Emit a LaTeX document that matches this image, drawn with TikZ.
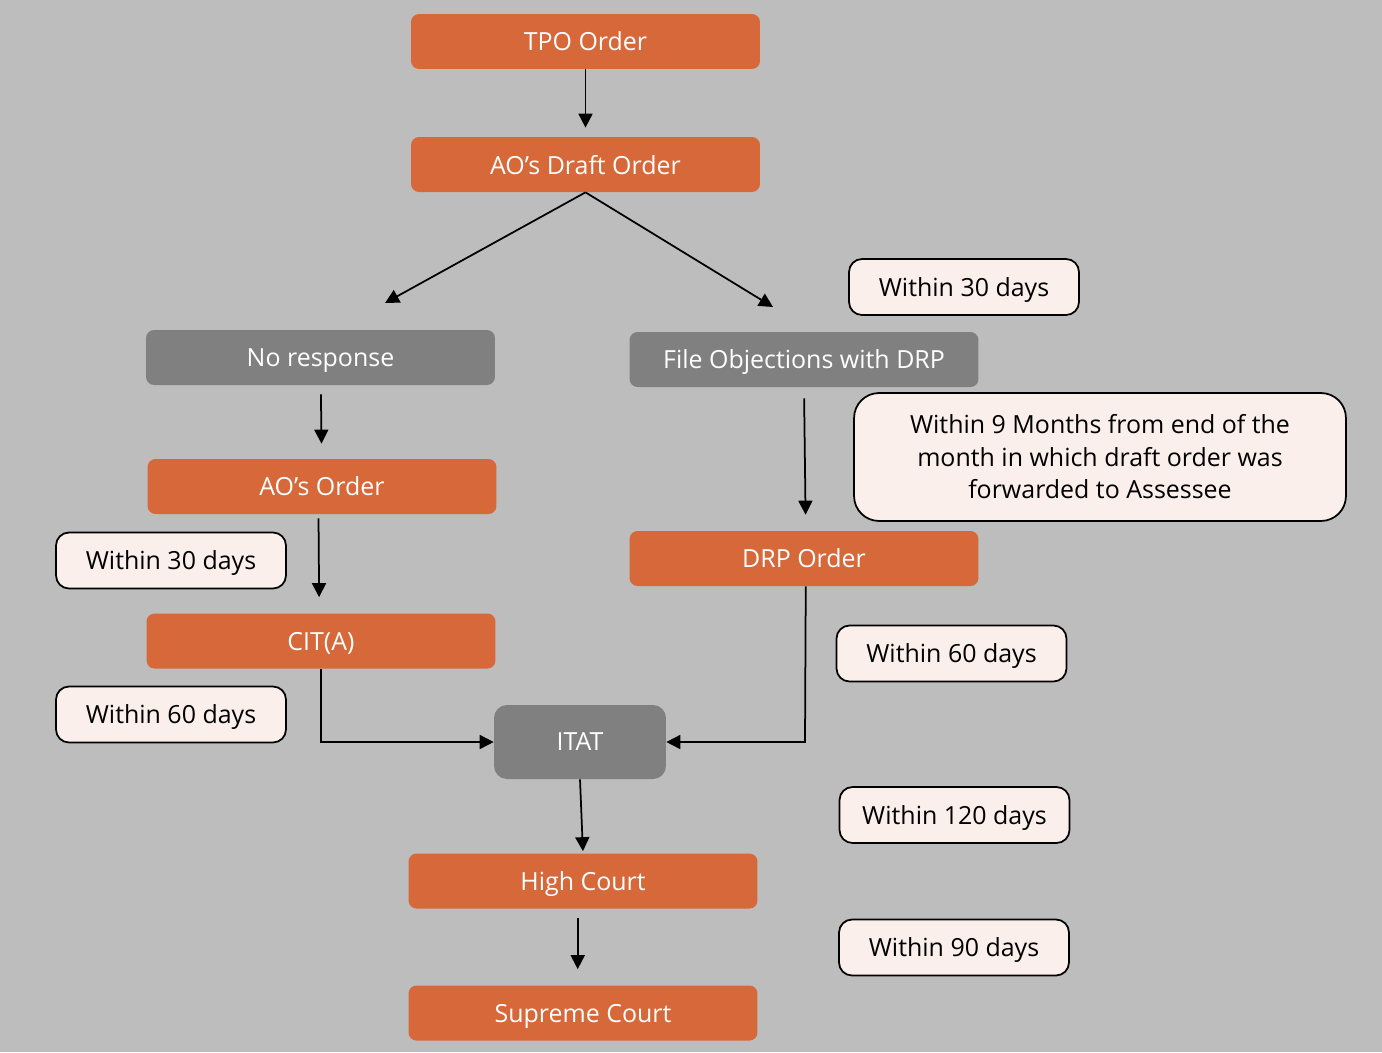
\documentclass[tikz,border=0pt]{standalone}
\usepackage{fontspec}
\setmainfont{Open Sans}
\usetikzlibrary{arrows.meta}

\definecolor{stageorange}{HTML}{D66839}
\definecolor{stagegray}{HTML}{808080}
\definecolor{notecream}{HTML}{FAEFEA}
\definecolor{backgray}{HTML}{BDBDBD}

\tikzset{
    stage/.style={rectangle, rounded corners=0.16cm, fill=stageorange, text=white,
        minimum width=6.98cm, minimum height=1.10cm, inner sep=0pt, text depth=0pt},
    choice/.style={stage, fill=stagegray},
    notebox/.style={rectangle, rounded corners=0.26cm, fill=notecream, draw=black,
        line width=0.035cm, minimum width=4.60cm, minimum height=1.12cm, inner sep=0pt},
    timebox/.style={notebox, text depth=0pt},
    flow/.style={line width=0.035cm, -{Triangle[length=0.28cm,width=0.28cm]}}
}

\begin{document}
\begin{tikzpicture}[x=0.02cm, y=-0.02cm, font=\fontsize{14.2}{18.5}\selectfont]
    \fill[backgray] (0,0) rectangle (1382,1052);
    \useasboundingbox (0,0) rectangle (1382,1052);

    \node[stage] (tpo) at (585.5,41.5) {TPO Order};
    \node[stage] (draft) at (585.5,164.5) {AO’s Draft Order};
    \node[choice] (noresp) at (320.5,357.5) {No response};
    \node[choice] (objections) at (804,359.5) {File Objections with DRP};
    \node[stage] (aoorder) at (322,486.5) {AO’s Order};
    \node[stage] (drporder) at (804,558.5) {DRP Order};
    \node[stage] (cita) at (321,641) {CIT(A)};
    \node[choice, rounded corners=0.26cm, minimum width=3.44cm, minimum height=1.48cm] (itat) at (580,742) {ITAT};
    \node[stage] (highcourt) at (583,881) {High Court};
    \node[stage] (supreme) at (583,1013) {Supreme Court};

    \node[timebox] (obj-days) at (964,287) {Within 30 days};
    \node[notebox, rounded corners=0.5cm, minimum width=9.84cm, minimum height=2.56cm,
        align=center] (drp-months) at (1100,457)
        {Within 9 Months from end of the\\month in which draft order was\\forwarded to Assessee};
    \node[timebox] (cita-days) at (171,560.5) {Within 30 days};
    \node[timebox] (itat-days-left) at (171,714.5) {Within 60 days};
    \node[timebox] (itat-days-right) at (951.5,653.5) {Within 60 days};
    \node[timebox] (hc-days) at (954.5,815) {Within 120 days};
    \node[timebox] (sc-days) at (954,947.5) {Within 90 days};

    \coordinate (noresp-tip) at (385,303);
    \coordinate (objections-tip) at (773,307);
    \coordinate (cita-corner) at (321,742);
    \coordinate (drp-corner) at (805,742);

    \draw[flow, shorten >=0.18cm] (tpo) -- (draft);
    \draw[flow] (draft.south) -- (noresp-tip);
    \draw[flow] (draft.south) -- (objections-tip);
    \draw[flow, shorten <=0.18cm, shorten >=0.30cm] (noresp) -- (aoorder);
    \draw[flow, shorten <=0.22cm, shorten >=0.32cm] (objections.south) -- ([xshift=1]drporder.north);
    \draw[flow, shorten <=0.08cm, shorten >=0.32cm] ([xshift=-2]aoorder.south) -- ([xshift=-1]cita.north);
    \draw[flow] (cita.south) -- (cita-corner) -- (itat.west);
    \draw[flow] ([xshift=1]drporder.south) -- (drp-corner) -- (itat.east);
    \draw[flow, shorten >=0.04cm] (itat.south) -- (highcourt.north);
    \draw[flow, shorten <=0.18cm, shorten >=0.32cm] ([xshift=-3]highcourt.south) -- ([xshift=-3]supreme.north);
\end{tikzpicture}
\end{document}
